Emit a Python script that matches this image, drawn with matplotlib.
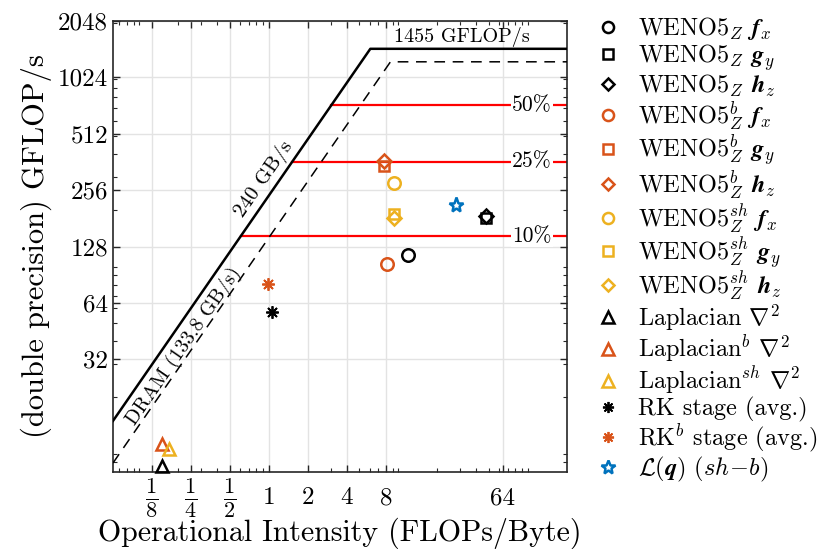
import numpy as np
import matplotlib
matplotlib.use('Agg')
import matplotlib.pyplot as plt
from matplotlib.lines import Line2D

plt.rcParams['font.family'] = 'serif'
plt.rcParams['font.serif'] = ['cmr10']
plt.rcParams['mathtext.fontset'] = 'cm'
plt.rcParams['axes.formatter.use_mathtext'] = True
plt.rcParams['axes.unicode_minus'] = False

# roofline parameters (GFLOP/s, GB/s)
peak = 1455
bw = 240
peak_dram = 1240
bw_dram = 143
fractions = [0.5, 0.25, 0.1]
frac_labels = ['50%', '25%', '10%']

# measured kernels: (operational intensity, GFLOP/s)
names = [r'WENO5$_Z$ $\boldsymbol{f}_x$', r'WENO5$_Z$ $\boldsymbol{g}_y$', r'WENO5$_Z$ $\boldsymbol{h}_z$',
         r'WENO5$^b_Z$ $\boldsymbol{f}_x$', r'WENO5$^b_Z$ $\boldsymbol{g}_y$', r'WENO5$^b_Z$ $\boldsymbol{h}_z$',
         r'WENO5$^{sh}_Z$ $\boldsymbol{f}_x$', r'WENO5$^{sh}_Z$ $\boldsymbol{g}_y$', r'WENO5$^{sh}_Z$ $\boldsymbol{h}_z$',
         r'Laplacian $\boldsymbol{\nabla}^2$', r'Laplacian$^b$ $\boldsymbol{\nabla}^2$', r'Laplacian$^{sh}$ $\boldsymbol{\nabla}^2$',
         r'RK stage (avg.)', r'RK$^b$ stage (avg.)', r'$\mathcal{L}(\boldsymbol{q})$ $(sh\!-\!b)$']
intensity = [11.8, 47, 47, 8.15, 7.72, 7.72, 9.27, 9.3, 9.3, 0.150, 0.150, 0.169, 1.05, 0.98, 27.8]
gflops = [116, 181, 187, 103, 343, 364, 278, 190, 182, 8.61, 11.35, 10.67, 57.4, 80.5, 214]

black = 'black'
orange = '#D95319'
yellow = '#EDB120'
blue = '#0072BD'
colors = [black] * 3 + [orange] * 3 + [yellow] * 3 + [black, orange, yellow, black, orange, blue]
markers = ['o', 's', 'D'] * 3 + ['^'] * 3 + [(8, 2, 0), (8, 2, 0), '*']
sizes = [9, 7.5, 7.5] * 3 + [9] * 3 + [9, 9, 11]
widths = [1.8] * 12 + [1.3, 1.3, 1.8]

xticks = [1/8, 1/4, 1/2, 1, 2, 4, 8, 64]
xticklabels = [r'$\frac{1}{8}$', r'$\frac{1}{4}$', r'$\frac{1}{2}$', '1', '2', '4', '8', '64']
yticks = [32, 64, 128, 256, 512, 1024, 2048]

fig = plt.figure(figsize=(8.17, 5.49), dpi=100)
ax = fig.add_axes([113/817, 1 - 472/549, (567 - 113)/817, (472 - 21)/549])
ax.set_xscale('log', base=2)
ax.set_yscale('log', base=2)
ax.set_xlim(1/16, 200)
ax.set_ylim(8, 2048)

# rooflines
x = np.array([1/16, peak/bw, 200])
ax.plot(x, np.minimum(bw*x, peak), color='black', lw=1.8, zorder=3)
x = np.array([1/16, peak_dram/bw_dram, 200])
ax.plot(x, np.minimum(bw_dram*x, peak_dram), color='black', lw=1.1, ls=(0, (7, 5)), zorder=3)

for f, lab in zip(fractions, frac_labels):
    ax.plot([f*peak/bw, 200], [f*peak, f*peak], color='red', lw=1.6, zorder=2)
    ax.text(107, f*peak, lab, fontsize=15.5, ha='center', va='center', zorder=4,
            bbox=dict(facecolor='white', edgecolor='none', pad=1))

for i in range(len(names)):
    ax.plot(intensity[i], gflops[i], ls='none', marker=markers[i], ms=sizes[i],
            mec=colors[i], mfc='none', mew=widths[i], zorder=5, clip_on=False)

# slanted labels
p0 = ax.transData.transform((1, bw))
p1 = ax.transData.transform((2, 2*bw))
ang = np.degrees(np.arctan2(p1[1] - p0[1], p1[0] - p0[0]))
ax.text(30.9, 1690, '1455 GFLOP/s', fontsize=14.5, ha='center', va='center')
ax.text(0.92, 295, '240 GB/s', fontsize=15, ha='center', va='center', rotation=ang,
        rotation_mode='anchor')
ax.text(0.22, 37.3, 'DRAM (133.8 GB/s)', fontsize=14.5, ha='center', va='center', rotation=ang,
        rotation_mode='anchor')

ax.set_xticks(xticks)
ax.set_xticklabels(xticklabels)
ax.set_yticks(yticks)
ax.set_yticklabels([str(v) for v in yticks])
minor_x = [k*10.0**e for e in (-2, -1, 0, 1, 2) for k in range(2, 10)] + [0.1, 1, 10, 100]
ax.set_xticks([v for v in minor_x if 1/16 < v < 200], minor=True)
minor_y = [k*10.0**e for e in (0, 1, 2, 3) for k in range(1, 10)]
ax.set_yticks([v for v in minor_y if 8 < v < 2048], minor=True)
ax.set_xticklabels([], minor=True)
ax.set_yticklabels([], minor=True)
ax.tick_params(which='both', direction='in', top=True, right=True, labelsize=18, color='#262626')
ax.tick_params(axis='x', which='major', pad=19)
ax.tick_params(which='major', length=5, width=1)
ax.tick_params(which='minor', length=3, width=0.8)
for k, t in enumerate(ax.xaxis.get_major_ticks()):
    t.label1.set_va('center')
    if k < 3:
        t.label1.set_fontsize(23)
ax.grid(True, which='major', color='#e3e3e3', lw=1)
ax.set_axisbelow(True)
for s in ax.spines.values():
    s.set_color('#262626')
    s.set_linewidth(1.2)

ax.set_xlabel('Operational Intensity (FLOPs/Byte)', fontsize=21.5, va='center')
ax.xaxis.set_label_coords(0.5, -61/451)
ax.set_ylabel('(double precision) GFLOP/s', fontsize=22, labelpad=4)

handles = [Line2D([], [], ls='none', marker=markers[i], ms=sizes[i] - 1, mec=colors[i],
                  mfc='none', mew=widths[i]) for i in range(len(names))]
fig.legend(handles, names, loc='upper left', bbox_to_anchor=(0.717, 0.99),
           bbox_transform=fig.transFigure, frameon=False, fontsize=17.5, labelspacing=0.0,
           handlelength=1.0, handletextpad=0.75, borderaxespad=0)

fig.savefig('out.png', dpi=100)
